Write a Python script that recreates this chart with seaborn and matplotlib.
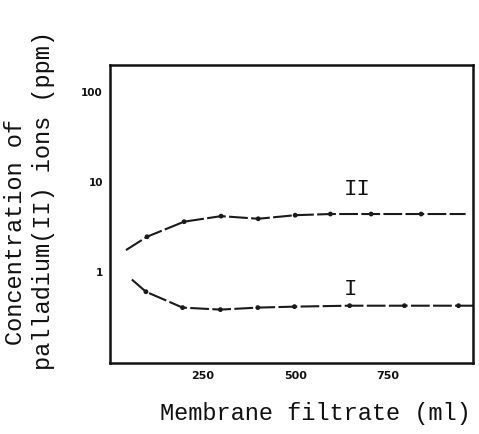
import matplotlib
matplotlib.use("Agg")
import matplotlib.pyplot as plt
import seaborn as sns
import pandas as pd

# Curve II (line extents and measured points)
x_II_line = [43, 100, 200, 300, 400, 500, 595, 705, 840, 960]
y_II_line = [1.74, 2.45, 3.6, 4.15, 3.88, 4.25, 4.38, 4.38, 4.38, 4.38]
x_II_pts = [100, 200, 300, 400, 500, 595, 705, 840]
y_II_pts = [2.45, 3.6, 4.15, 3.88, 4.25, 4.38, 4.38, 4.38]

# Curve I
x_I_line = [59, 97, 196, 298, 399, 498, 647, 795, 941, 980]
y_I_line = [0.82, 0.60, 0.40, 0.38, 0.40, 0.41, 0.42, 0.42, 0.42, 0.42]
x_I_pts = [97, 196, 298, 399, 498, 647, 795, 941]
y_I_pts = [0.60, 0.40, 0.38, 0.40, 0.41, 0.42, 0.42, 0.42]

x_ticks = [250, 500, 750]
y_ticks = [1, 10, 100]
y_ticklabels = ["1", "10", "100"]

sns.set_style("white")
mono = ["Liberation Mono", "DejaVu Sans Mono"]

fig = plt.figure(figsize=(4.79, 4.34), dpi=100)
ax = fig.add_axes([110 / 479, 1 - 363 / 434, 363 / 479, 298 / 434])

dash = (0, (9, 1.6))
for xl, yl, xp, yp in [(x_II_line, y_II_line, x_II_pts, y_II_pts),
                       (x_I_line, y_I_line, x_I_pts, y_I_pts)]:
    dfl = pd.DataFrame({"x": xl, "y": yl})
    sns.lineplot(data=dfl, x="x", y="y", ax=ax, color="#1a1a1a", lw=1.5,
                 linestyle=dash, sort=False)
    dfp = pd.DataFrame({"x": xp, "y": yp})
    sns.scatterplot(data=dfp, x="x", y="y", ax=ax, color="#1a1a1a", s=12,
                    edgecolor="none", zorder=3)

ax.set_yscale("log")
ax.set_xlim(0, 980)
ax.set_ylim(0.097, 198)
ax.set_xticks(x_ticks)
ax.set_xticklabels([str(t) for t in x_ticks], fontsize=8, fontweight="bold")
ax.set_yticks(y_ticks)
ax.set_yticklabels(y_ticklabels, fontsize=7.5, fontweight="bold")
ax.yaxis.set_minor_locator(matplotlib.ticker.NullLocator())
ax.tick_params(axis="x", direction="in", length=5, width=1.2, pad=6, colors="#111111")
ax.tick_params(axis="y", direction="out", length=4, width=1.2, pad=1, colors="#111111")
for s in ax.spines.values():
    s.set_linewidth(1.8)
    s.set_color("#111111")

ax.set_ylabel("")
ax.set_xlabel("Membrane filtrate (ml)", fontsize=17, family=mono, color="#111111")
ax.xaxis.set_label_coords(0.565, -0.13)

fig.text(16 / 479, 1 - 232 / 434, "Concentration of", rotation=90,
         ha="center", va="center", fontsize=17, family=mono, color="#111111")
fig.text(44 / 479, 1 - 201 / 434, "palladium(II) ions (ppm)", rotation=90,
         ha="center", va="center", fontsize=17, family=mono, color="#111111")

ax.text(667, 8.3, "II", ha="center", va="center", fontsize=16, family=mono, color="#111111")
ax.text(648, 0.64, "I", ha="center", va="center", fontsize=16, family=mono, color="#111111")

fig.savefig("out.png", dpi=100)
